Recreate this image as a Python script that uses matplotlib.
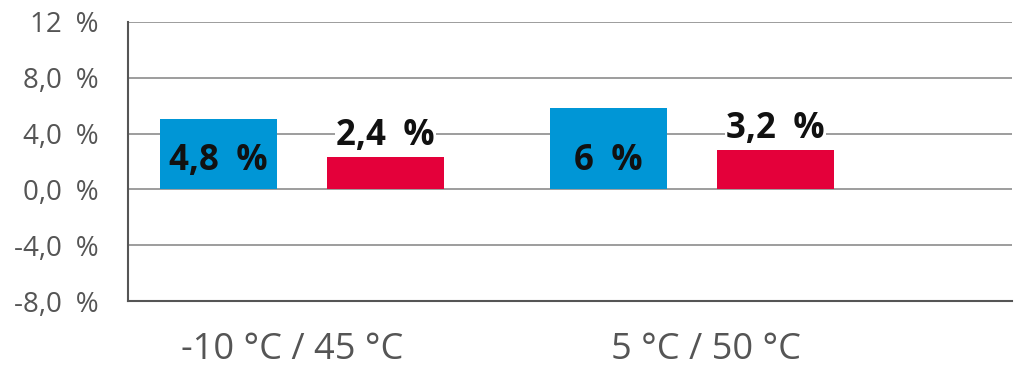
import matplotlib.pyplot as plt
import numpy as np

categories = ['-10 °C / 45 °C', '5 °C / 50 °C']
blue_vals = [5.05, 5.85]
red_vals = [2.35, 2.85]
blue_labels = ['4,8 %', '6 %']
red_labels = ['2,4 %', '3,2 %']
yticks = [-8, -4, 0, 4, 8, 12]
ytick_labels = ['-8,0 %', '-4,0 %', '0,0 %', '4,0 %', '8,0 %', '12 %']

plt.rcParams['font.family'] = ['Open Sans', 'DejaVu Sans']

fig = plt.figure(figsize=(10.36, 3.79), dpi=100)
ax = fig.add_axes([128 / 1036, 1 - 301 / 379, 884 / 1036, 279 / 379])

x = np.arange(len(categories))
w = 0.3
off = 0.214
ax.bar(x - off, blue_vals, w, color='#0096d6', zorder=3)
ax.bar(x + off, red_vals, w, color='#e4003a', zorder=3)

for i in range(len(categories)):
    ax.text(x[i] - off, 2.0, blue_labels[i].replace(' ', '\u2002'), ha='center', va='center',
            fontsize=25, fontweight='bold', color='#111111', zorder=4)
    ax.text(x[i] + off, red_vals[i] + 0.2, red_labels[i].replace(' ', '\u2002'), ha='center',
            va='bottom', fontsize=25, fontweight='bold', color='#111111', zorder=4,
            bbox=dict(facecolor='white', edgecolor='none', pad=1))

ax.set_xlim(-0.446, 1.82)
ax.set_ylim(-8, 12)
ax.set_yticks(yticks)
ax.set_yticklabels([t.replace(' ', '\u2002') for t in ytick_labels])
# category labels sit a little off the group centres in the original
ax.set_xticks(x + np.array([-0.025, 0.035]))
ax.set_xticklabels(categories)
ax.grid(axis='y', color='#8c8c8c', linewidth=1.2, zorder=0)
ax.tick_params(axis='y', length=0, pad=21, labelsize=20, labelcolor='#555555')
ax.tick_params(axis='x', length=0, pad=22, labelsize=26, labelcolor='#555555')
for s in ['top', 'right']:
    ax.spines[s].set_visible(False)
ax.spines['left'].set_color('#555555')
ax.spines['bottom'].set_color('#555555')
ax.spines['left'].set_linewidth(1.5)
ax.spines['bottom'].set_linewidth(1.5)

plt.savefig('out.png', dpi=100)
plt.close()
